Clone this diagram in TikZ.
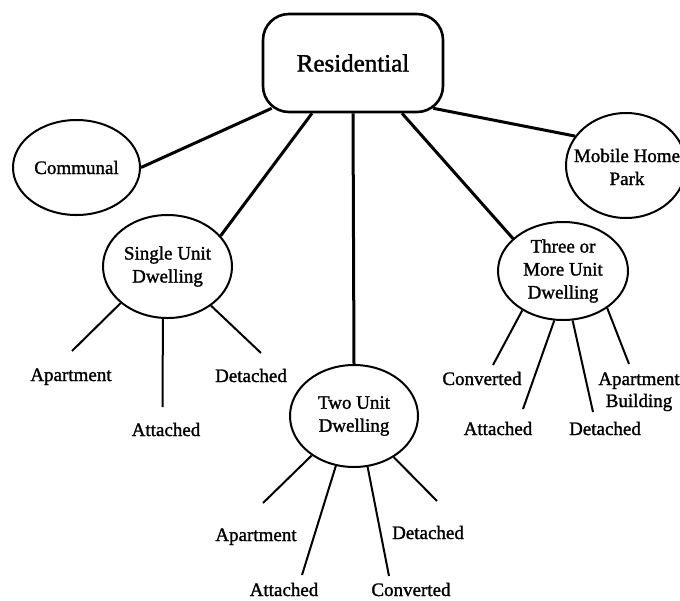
\documentclass[tikz,border=0pt]{standalone}
\usepackage{fontspec}
\setmainfont{Liberation Serif}[FakeBold=1.4]
\usetikzlibrary{shapes.geometric}

\begin{document}
\begin{tikzpicture}[x=1pt, y=-1pt, line join=round,
  topbox/.style={rectangle, rounded corners=26pt, draw, line width=2.6pt,
    minimum width=180pt, minimum height=98pt, inner sep=0pt,
    font=\fontsize{25}{30}\selectfont},
  unit/.style={ellipse, draw, line width=2pt, inner sep=0pt, align=center,
    font=\fontsize{19}{23}\selectfont},
  labeltext/.style={inner sep=0pt, align=center, font=\fontsize{19}{23}\selectfont},
  leaf/.style={inner sep=0pt, anchor=base, font=\fontsize{19}{23}\selectfont},
  mainlink/.style={line width=3pt},
  leaflink/.style={line width=2pt}]

\useasboundingbox (0,0) rectangle (680,600);
\clip (0,0) rectangle (680,600);

% top category and its five subclasses
\node[topbox] (res) at (353,63) {Residential};
\node[unit, minimum width=127pt, minimum height=95pt] (comm) at (76.5,167.5) {Communal};
\node[unit, minimum width=120pt, minimum height=105pt] (mob) at (626,165.5) {};
\node[labeltext] (mobtext) at (627,167) {Mobile Home\\Park};
\node[unit, minimum width=129pt, minimum height=103pt] (sud) at (167.5,266.5) {Single Unit\\Dwelling};
\node[unit, minimum width=128pt, minimum height=102pt] (two) at (354,416) {Two Unit\\Dwelling};
\node[unit, minimum width=130pt, minimum height=98pt] (thr) at (563,271) {Three or\\More Unit\\Dwelling};

\draw[mainlink] (comm.east) -- ([shift={(10,-5)}]res.south west);
\draw[mainlink] (sud.30) -- ([xshift=-41]res.south);
\draw[mainlink] (res.south) -- (two.north);
\draw[mainlink] ([xshift=49]res.south) -- (thr.147);
\draw[mainlink] ([shift={(-11,-5)}]res.south east) -- (mob.150);

% single unit dwelling types
\node[leaf] (sudapt) at (71,381) {Apartment};
\node[leaf] (sudatt) at (166,436) {Attached};
\node[leaf] (suddet) at (251,382) {Detached};
\coordinate (sudaptend) at (72,351);
\coordinate (sudattend) at (162.5,407);
\coordinate (suddetend) at (261,353);
\draw[leaflink] (sud.218) -- (sudaptend);
\draw[leaflink] (sud.265) -- (sudattend);
\draw[leaflink] (sud.-42) -- (suddetend);

% two unit dwelling types
\node[leaf] (twoapt) at (256,541) {Apartment};
\node[leaf] (twoatt) at (284,596) {Attached};
\node[leaf] (twocon) at (411,596) {Converted};
\node[leaf] (twodet) at (428,539) {Detached};
\coordinate (twoaptend) at (263,503);
\coordinate (twoattend) at (302,575);
\coordinate (twoconend) at (389,576);
\coordinate (twodetend) at (437,501);
\draw[leaflink] (two.-137) -- (twoaptend);
\draw[leaflink] (two.-110) -- (twoattend);
\draw[leaflink] (two.-75) -- (twoconend);
\draw[leaflink] (two.-46) -- (twodetend);

% three or more unit dwelling types
\node[leaf] (thrcon) at (482,385) {Converted};
\node[leaf] (thratt) at (498,435) {Attached};
\node[leaf] (thrdet) at (605,435) {Detached};
\node[labeltext, font=\fontsize{19}{22}\selectfont] (thrapt) at (639,391.8) {Apartment\\Building};
\coordinate (thrconend) at (493,365);
\coordinate (thrattend) at (523,409);
\coordinate (thrdetend) at (593,412);
\coordinate (thraptend) at (629,364);
\draw[leaflink] (thr.-136) -- (thrconend);
\draw[leaflink] (thr.-100) -- (thrattend);
\draw[leaflink] (thr.-79) -- (thrdetend);
\draw[leaflink] (thr.-40) -- (thraptend);
\end{tikzpicture}
\end{document}
